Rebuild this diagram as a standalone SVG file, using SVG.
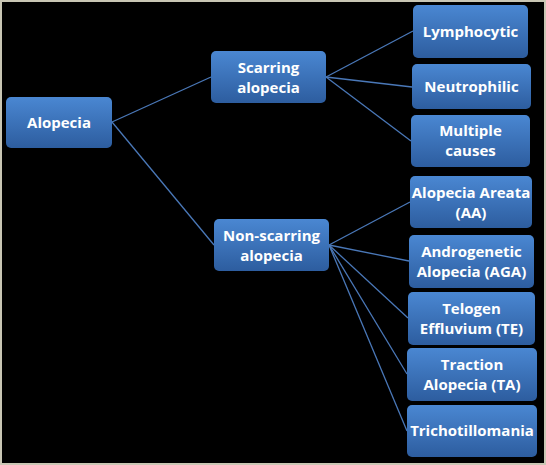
<svg xmlns="http://www.w3.org/2000/svg" width="546" height="465" viewBox="0 0 546 465">
<defs>
<linearGradient id="g" x1="0" y1="0" x2="0" y2="1">
<stop offset="0" stop-color="#4a87d2"/>
<stop offset="1" stop-color="#2d5d9f"/>
</linearGradient>
<style>
.n{fill:url(#g);}
.t{fill:#ffffff;font-family:"Open Sans","Liberation Sans",sans-serif;font-weight:bold;font-size:15px;text-anchor:middle;}
.c line{stroke:#4a78b8;stroke-width:1.3;}
</style>
</defs>
<rect x="0" y="0" width="546" height="465" fill="#000000"/>
<rect x="1" y="1" width="544" height="463" fill="none" stroke="#c9c6b4" stroke-width="2"/>
<g class="c">
<line x1="112" y1="122" x2="211" y2="77"/>
<line x1="112" y1="122" x2="214" y2="245"/>
<line x1="326" y1="77" x2="413" y2="31"/>
<line x1="326" y1="77" x2="412" y2="87"/>
<line x1="326" y1="77" x2="411" y2="141"/>
<line x1="329" y1="245" x2="410" y2="202"/>
<line x1="329" y1="245" x2="409" y2="261"/>
<line x1="329" y1="245" x2="408" y2="318"/>
<line x1="329" y1="245" x2="407" y2="374"/>
<line x1="329" y1="245" x2="407" y2="431"/>
</g>
<g id="alopecia"><rect class="n" x="6" y="97" width="106" height="51" rx="5"/><text class="t" x="59" y="128">Alopecia</text></g>
<g id="scarring"><rect class="n" x="211" y="51" width="115" height="52" rx="5"/><text class="t" x="268.5" y="73">Scarring</text><text class="t" x="268.5" y="93">alopecia</text></g>
<g id="nonscarring"><rect class="n" x="214" y="219" width="115" height="52" rx="5"/><text class="t" x="271.5" y="241">Non-scarring</text><text class="t" x="271.5" y="261">alopecia</text></g>
<g id="lymphocytic"><rect class="n" x="413" y="5" width="115" height="53" rx="5"/><text class="t" x="470.5" y="37">Lymphocytic</text></g>
<g id="neutrophilic"><rect class="n" x="412" y="64" width="119" height="45" rx="5"/><text class="t" x="471.5" y="92">Neutrophilic</text></g>
<g id="multiple"><rect class="n" x="411" y="115" width="119" height="52" rx="5"/><text class="t" x="470.5" y="136">Multiple</text><text class="t" x="470.5" y="156">causes</text></g>
<g id="aa"><rect class="n" x="410" y="176" width="122" height="52" rx="5"/><text class="t" x="471" y="198">Alopecia Areata</text><text class="t" x="471" y="218">(AA)</text></g>
<g id="aga"><rect class="n" x="409" y="235" width="125" height="53" rx="5"/><text class="t" x="471.5" y="257">Androgenetic</text><text class="t" x="471.5" y="277">Alopecia (AGA)</text></g>
<g id="te"><rect class="n" x="408" y="292" width="127" height="53" rx="5"/><text class="t" x="471.5" y="314">Telogen</text><text class="t" x="471.5" y="334">Effluvium (TE)</text></g>
<g id="ta"><rect class="n" x="407" y="348" width="130" height="53" rx="5"/><text class="t" x="472" y="370">Traction</text><text class="t" x="472" y="390">Alopecia (TA)</text></g>
<g id="trich"><rect class="n" x="407" y="405" width="130" height="52" rx="5"/><text class="t" x="472" y="436">Trichotillomania</text></g>
</svg>
